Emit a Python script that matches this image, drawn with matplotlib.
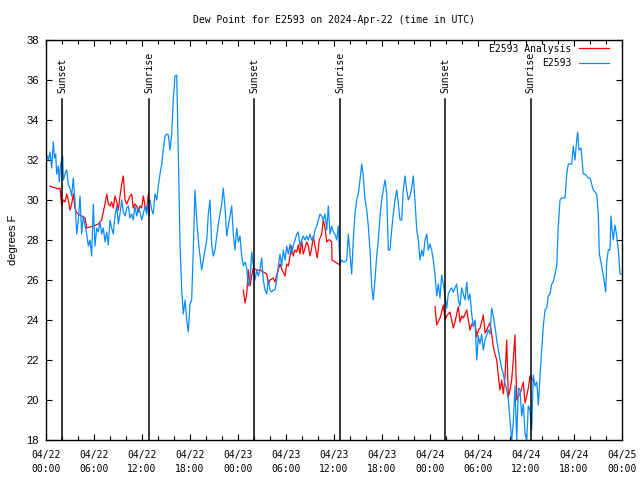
import numpy as np
import matplotlib.pyplot as plt
from matplotlib.ticker import MultipleLocator

# hours since 2024-04-22 00:00 UTC
obs_hours = [0.00, 0.19, 0.31, 0.50, 0.71, 0.91, 1.06, 1.21, 1.34, 1.54, 1.66, 1.84, 2.09, 2.16, 2.38, 2.59, 2.79, 3.00, 3.21, 3.41,
             3.62, 3.84, 4.04, 4.25, 4.46, 4.66, 4.88, 5.09, 5.29, 5.50, 5.71, 5.91, 6.12, 6.34, 6.54, 6.75, 6.96, 7.16, 7.38, 7.59,
             7.79, 8.00, 8.21, 8.41, 8.62, 8.84, 9.04, 9.25, 9.46, 9.66, 9.88, 10.09, 10.29, 10.50, 10.71, 10.91, 11.12, 11.34, 11.54, 11.75,
             11.96, 12.16, 12.38, 12.59, 12.79, 13.00, 13.21, 13.41, 13.62, 13.84, 14.04, 14.25, 14.46, 14.66, 14.88, 15.09, 15.29, 15.50, 15.71, 15.91,
             16.12, 16.34, 16.54, 16.75, 16.96, 17.16, 17.38, 17.59, 17.79, 18.00, 18.21, 18.41, 18.62, 18.84, 19.04, 19.25, 19.46, 19.66, 19.88, 20.09,
             20.29, 20.50, 20.71, 20.91, 21.12, 21.34, 21.54, 21.75, 21.96, 22.16, 22.38, 22.59, 22.79, 23.00, 23.21, 23.41, 23.62, 23.84, 24.04, 24.25,
             24.46, 24.66, 24.88, 25.09, 25.29, 25.50, 25.71, 25.91, 26.12, 26.34, 26.54, 26.75, 26.96, 27.16, 27.38, 27.59, 27.79, 28.00, 28.21, 28.41,
             28.62, 28.84, 29.04, 29.25, 29.46, 29.66, 29.88, 30.09, 30.29, 30.50, 30.71, 30.91, 31.12, 31.34, 31.54, 31.75, 31.96, 32.16, 32.38, 32.59,
             32.79, 33.00, 33.21, 33.41, 33.62, 33.84, 34.04, 34.25, 34.46, 34.66, 34.88, 35.09, 35.29, 35.50, 35.71, 35.91, 36.12, 36.34, 36.54, 36.75,
             36.96, 37.16, 37.38, 37.59, 37.79, 38.00, 38.21, 38.41, 38.62, 38.84, 39.04, 39.25, 39.46, 39.66, 39.88, 40.09, 40.29, 40.50, 40.71, 40.91,
             41.12, 41.34, 41.54, 41.75, 41.96, 42.16, 42.38, 42.59, 42.79, 43.00, 43.21, 43.41, 43.62, 43.84, 44.04, 44.25, 44.46, 44.66, 44.88, 45.09,
             45.29, 45.50, 45.71, 45.91, 46.12, 46.34, 46.54, 46.75, 46.96, 47.16, 47.38, 47.59, 47.79, 48.00, 48.21, 48.41, 48.62, 48.84, 49.04, 49.25,
             49.46, 49.66, 49.88, 50.09, 50.29, 50.50, 50.71, 50.91, 51.12, 51.34, 51.54, 51.75, 51.96, 52.16, 52.38, 52.59, 52.79, 53.00, 53.21, 53.41,
             53.62, 53.84, 54.04, 54.25, 54.46, 54.66, 54.88, 55.09, 55.29, 55.50, 55.71, 55.91, 56.12, 56.34, 56.54, 56.75, 56.96, 57.16, 57.38, 57.59,
             57.79, 58.00, 58.21, 58.41, 58.62, 58.84, 59.04, 59.25, 59.46, 59.66, 59.88, 60.09, 60.29, 60.50, 60.71, 60.91, 61.12, 61.34, 61.54, 61.75,
             61.96, 62.16, 62.38, 62.59, 62.79, 63.00, 63.21, 63.41, 63.62, 63.84, 64.04, 64.25, 64.46, 64.66, 64.88, 65.09, 65.29, 65.50, 65.71, 65.91,
             66.12, 66.34, 66.46, 66.62, 66.88, 67.16, 67.38, 67.59, 67.79, 68.00, 68.21, 68.41, 68.62, 68.84, 69.04, 69.16, 69.46, 69.75, 69.96, 70.09,
             70.29, 70.50, 70.62, 70.75, 70.91, 71.12, 71.34, 71.54, 71.75, 72.00]
obs_dewpt = [31.9, 32.2, 32.0, 32.4, 31.6, 32.9, 32.1, 32.3, 31.3, 31.7, 30.9, 31.8, 32.2, 31.0, 31.3, 31.5, 30.75, 30.6, 30.2, 31.1,
             30.0, 28.3, 29.0, 30.2, 28.3, 29.2, 28.7, 28.3, 27.7, 28.0, 27.2, 29.8, 27.7, 28.6, 28.4, 28.9, 28.3, 28.6, 27.9, 28.4,
             27.75, 29.0, 28.6, 28.3, 29.2, 29.7, 28.8, 29.3, 30.0, 29.4, 29.2, 29.6, 29.7, 29.1, 29.3, 29.0, 29.7, 29.2, 29.6, 29.4,
             29.0, 29.3, 29.7, 29.3, 29.9, 30.0, 29.5, 29.3, 30.3, 30.0, 30.7, 31.3, 31.8, 32.5, 33.2, 33.3, 33.25, 32.5, 33.3, 35.0,
             36.2, 36.25, 32.3, 27.8, 25.5, 24.3, 25.0, 24.0, 23.4, 24.8, 25.0, 27.5, 30.5, 29.0, 28.0, 27.2, 26.5, 27.0, 27.5, 28.0,
             29.3, 30.0, 27.8, 27.2, 27.5, 28.2, 28.8, 29.3, 29.8, 30.6, 29.6, 28.2, 28.7, 29.2, 29.7, 28.3, 27.5, 28.6, 27.9, 28.2,
             27.2, 26.7, 26.9, 26.6, 25.7, 26.0, 27.4, 26.7, 26.0, 26.5, 26.2, 26.5, 27.1, 26.0, 25.5, 25.3, 26.0, 25.5, 25.4, 25.5,
             25.5, 26.0, 26.7, 27.3, 26.7, 27.5, 27.0, 27.7, 27.3, 27.8, 27.3, 27.7, 28.0, 28.3, 28.4, 27.7, 28.0, 28.2, 28.0, 28.2,
             28.0, 28.3, 28.0, 28.0, 28.5, 28.7, 29.0, 29.3, 29.2, 29.0, 29.3, 28.5, 29.7, 28.3, 28.7, 28.4, 28.3, 28.0, 28.7, 26.8,
             27.0, 26.9, 26.9, 27.0, 28.3, 27.3, 26.3, 28.0, 29.3, 30.0, 30.3, 31.0, 31.8, 31.2, 30.0, 29.5, 28.7, 27.5, 25.7, 25.0,
             26.0, 27.2, 28.0, 29.2, 30.0, 30.5, 31.0, 30.3, 27.5, 27.5, 28.5, 29.3, 30.0, 30.5, 29.8, 29.0, 29.0, 30.5, 31.2, 30.5,
             30.0, 30.2, 30.6, 31.2, 30.0, 28.5, 28.0, 27.0, 27.5, 27.2, 28.0, 28.3, 27.5, 27.8, 27.5, 27.0, 26.3, 25.2, 25.8, 25.1,
             26.25, 25.8, 25.2, 24.6, 25.3, 25.5, 25.6, 25.4, 25.6, 25.8, 25.0, 24.7, 25.6, 25.3, 25.0, 25.9, 25.0, 25.3, 24.3, 23.7,
             24.0, 22.0, 23.2, 22.8, 23.3, 22.5, 23.0, 23.25, 23.5, 23.3, 24.6, 24.2, 23.7, 23.0, 22.5, 22.0, 21.6, 21.3, 20.8, 20.5,
             20.0, 19.0, 18.0, 18.85, 20.7, 18.0, 20.6, 20.5, 19.2, 19.8, 18.3, 18.0, 19.7, 19.5, 18.5, 21.25, 20.7, 20.9, 19.75, 21.2,
             22.5, 23.7, 24.5, 24.6, 25.2, 25.3, 25.8, 25.9, 26.3, 26.7, 28.7, 30.0, 30.1, 30.1, 30.1, 31.3, 31.8, 31.8, 31.8, 32.7,
             32.0, 33.0, 33.4, 32.5, 32.6, 31.3, 31.3, 31.2, 31.1, 31.1, 30.8, 30.5, 30.4, 30.3, 29.3, 27.3, 26.7, 26.0, 25.4, 26.9,
             27.5, 27.5, 29.2, 28.6, 28.0, 28.75, 28.2, 27.5, 26.3, 26.3]

# analysis, three separate pieces
ana_hours = [
    [0.50, 0.75, 1.25, 1.50, 1.75, 1.96, 2.16, 2.38, 2.59, 2.79, 3.00, 3.21, 3.41, 3.62, 3.84, 4.46, 4.88, 5.09, 5.91, 6.54,
     6.96, 7.16, 7.38, 7.59, 7.79, 8.00, 8.21, 8.41, 8.62, 8.84, 9.04, 9.25, 9.46, 9.66, 9.88, 10.09, 10.29, 10.50, 10.71, 10.91,
     11.12, 11.34, 11.54, 11.75, 11.96, 12.16, 12.38, 12.59, 12.79, 12.91],
    [24.66, 24.88, 25.09, 25.29, 25.50, 25.71, 25.91, 26.34, 26.75, 27.16, 27.59, 27.79, 28.00, 28.41, 28.62, 28.88, 29.25, 29.50, 29.88, 30.09,
     30.29, 30.50, 30.71, 30.91, 31.12, 31.34, 31.54, 31.75, 31.96, 32.16, 32.38, 32.59, 32.79, 33.00, 33.21, 33.41, 33.62, 33.91, 34.16, 34.46,
     34.66, 34.88, 35.09, 35.29, 35.50, 35.71, 35.75, 36.34, 36.75],
    [48.62, 48.84, 49.25, 49.46, 49.66, 49.88, 50.09, 50.29, 50.50, 50.71, 50.91, 51.12, 51.34, 51.54, 51.75, 51.96, 52.16, 52.38, 52.59, 52.79,
     53.00, 53.21, 53.41, 53.62, 53.84, 54.04, 54.25, 54.46, 54.66, 54.88, 55.09, 55.29, 55.50, 55.71, 55.91, 56.12, 56.34, 56.54, 56.75, 56.96,
     57.16, 57.38, 57.59, 57.79, 58.00, 58.21, 58.41, 58.62, 58.84, 59.04, 59.25, 59.46, 59.66, 59.88, 60.09, 60.29, 60.50, 60.84],
]
ana_dewpt = [
    [30.7, 30.65, 30.6, 30.55, 30.6, 29.7, 30.0, 29.9, 30.3, 30.0, 29.5, 29.8, 30.3, 29.6, 29.35, 29.2, 29.1, 28.6, 28.7, 28.8,
     29.0, 29.4, 29.8, 30.3, 29.8, 29.7, 29.9, 29.6, 30.2, 29.9, 29.5, 30.2, 30.8, 31.2, 30.0, 29.8, 30.0, 30.2, 30.3, 29.6,
     29.8, 29.7, 29.4, 29.7, 29.6, 30.2, 29.7, 29.5, 30.3, 29.2],
    [25.5, 24.85, 25.3, 26.5, 25.7, 26.2, 26.6, 26.5, 26.5, 26.4, 26.3, 25.8, 26.0, 26.1, 25.9, 26.3, 26.8, 26.5, 26.2, 26.8,
     26.7, 27.2, 27.7, 27.2, 27.5, 27.4, 27.75, 27.3, 28.0, 27.3, 27.6, 27.9, 27.7, 27.2, 27.6, 28.2, 27.7, 27.1, 28.0, 28.3,
     29.0, 28.6, 27.9, 28.0, 28.0, 27.9, 27.0, 26.85, 26.75],
    [24.67, 23.75, 24.1, 24.4, 24.75, 24.0, 24.2, 24.3, 24.4, 24.0, 23.6, 23.9, 24.3, 24.67, 23.9, 24.2, 24.1, 24.3, 24.5, 24.0,
     23.5, 23.8, 23.7, 23.9, 23.15, 23.5, 23.6, 23.9, 24.25, 23.35, 23.5, 23.7, 23.85, 23.3, 22.67, 22.3, 22.0, 21.2, 20.5, 21.0,
     20.3, 21.2, 23.0, 20.15, 20.5, 21.0, 22.0, 23.25, 20.0, 20.2, 20.3, 20.6, 20.9, 19.85, 20.2, 20.6, 21.2, 21.0],
]

sunset_hours = [2.0, 26.0, 49.9]
sunrise_hours = [12.9, 36.75, 60.6]

tick_hours = [0, 6, 12, 18, 24, 30, 36, 42, 48, 54, 60, 66, 72]
tick_labels = ['04/22\n00:00', '04/22\n06:00', '04/22\n12:00', '04/22\n18:00',
               '04/23\n00:00', '04/23\n06:00', '04/23\n12:00', '04/23\n18:00',
               '04/24\n00:00', '04/24\n06:00', '04/24\n12:00', '04/24\n18:00',
               '04/25\n00:00']

mono = 'DejaVu Sans Mono'

fig = plt.figure(figsize=(6.4, 4.8), dpi=100)
ax = fig.add_axes([46 / 640, 40 / 480, 576 / 640, 400 / 480])

for i in range(len(ana_hours)):
    ax.plot(ana_hours[i], ana_dewpt[i], color='#ff0000', lw=0.9,
            label='E2593 Analysis' if i == 0 else None)
ax.plot(obs_hours, obs_dewpt, color='#0a8cff', lw=0.9, label='E2593')

# sunrise / sunset markers
for h in sunset_hours:
    ax.plot([h, h], [18, 35.05], color='black', lw=1.1)
    ax.text(h, 35.35, 'Sunset', rotation=90, ha='center', va='bottom', fontsize=7, family=mono)
for h in sunrise_hours:
    ax.plot([h, h], [18, 35.05], color='black', lw=1.1)
    ax.text(h, 35.35, 'Sunrise', rotation=90, ha='center', va='bottom', fontsize=7, family=mono)

ax.set_xlim(0, 72)
ax.set_ylim(18, 38)
ax.set_xticks(tick_hours)
ax.set_xticklabels(tick_labels, family=mono, fontsize=7, linespacing=1.5)
ax.xaxis.set_minor_locator(MultipleLocator(2))
ax.yaxis.set_major_locator(MultipleLocator(2))
for lab in ax.get_yticklabels():
    lab.set_family('Liberation Sans')
    lab.set_fontsize(8)
ax.tick_params(axis='both', which='both', direction='in', top=True, right=True, width=0.8)
ax.tick_params(axis='x', which='major', length=4, pad=7.5)
ax.tick_params(axis='x', which='minor', length=3)
ax.tick_params(axis='y', which='major', length=4, pad=5)
for s in ax.spines.values():
    s.set_linewidth(1.0)

ax.set_ylabel('degrees F', family='Liberation Sans', fontsize=8, labelpad=6)
ax.set_title('Dew Point for E2593 on 2024-Apr-22 (time in UTC)', family=mono, fontsize=7, pad=12)

ax.legend(loc='upper right', frameon=False, markerfirst=False, prop={'family': mono, 'size': 7},
          handlelength=3.1, handletextpad=0.8, labelspacing=0.45, borderaxespad=0.0,
          bbox_to_anchor=(0.985, 1.0))

fig.savefig('out.png', dpi=100)
